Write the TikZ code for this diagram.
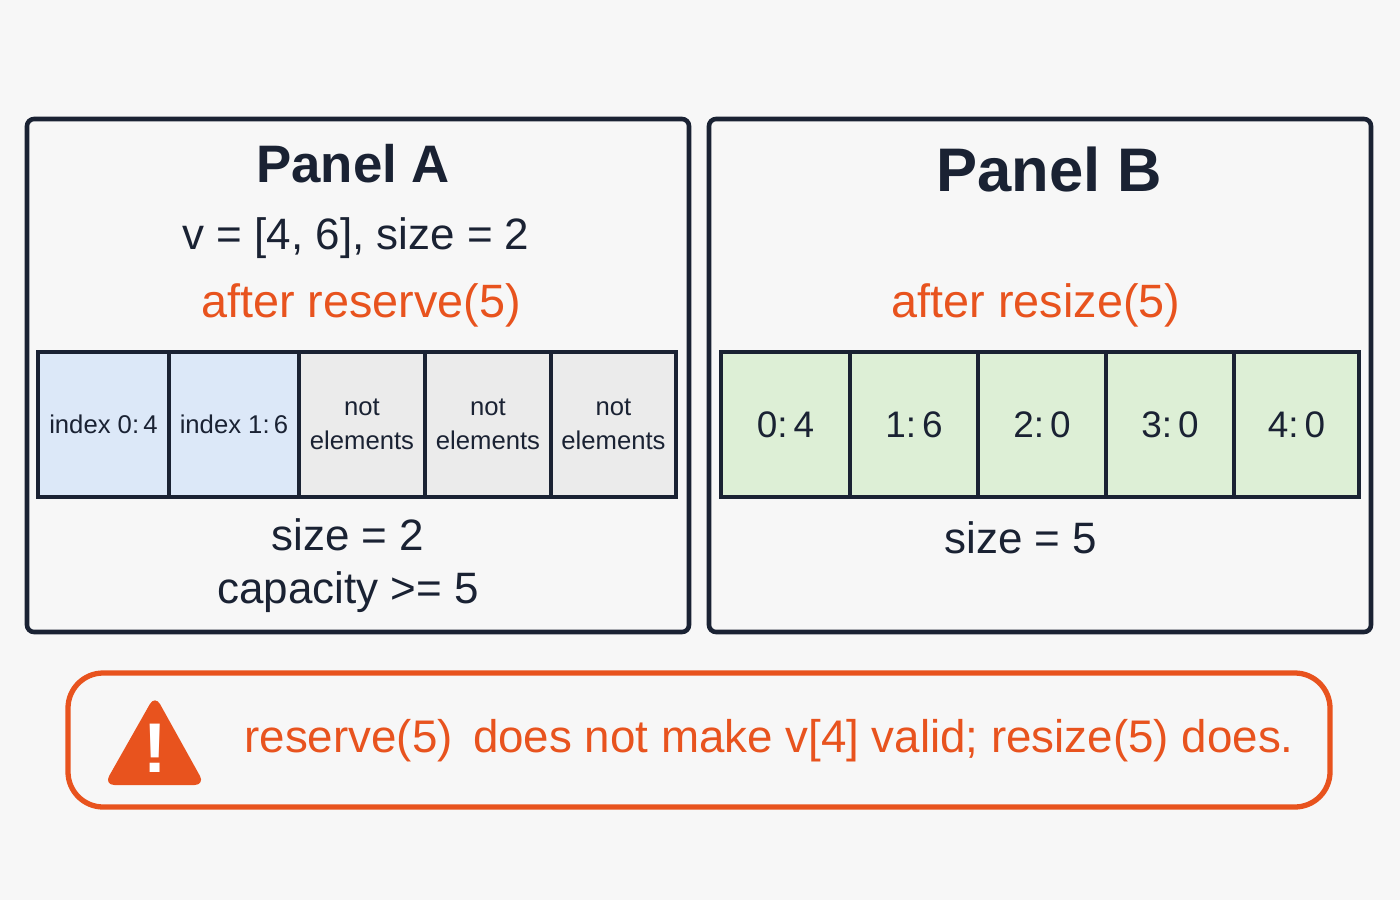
\documentclass[tikz,border=0pt]{standalone}
\usepackage{fontspec}
\setmainfont{Liberation Sans}
\usetikzlibrary{positioning}
\definecolor{ink}{HTML}{1A2233}
\definecolor{warn}{HTML}{E8531E}
\definecolor{blueF}{HTML}{DCE8F8}
\definecolor{grayF}{HTML}{EBEBEB}
\definecolor{greenF}{HTML}{DDEFD6}
\tikzstyle{panel}=[draw=ink, line width=1.3pt, rounded corners=2pt]
\tikzstyle{cell}=[draw=ink, line width=1.2pt, minimum height=1.45cm, inner sep=0pt, align=center, text=ink]
\tikzstyle{acell}=[cell, minimum width=1.27cm, font=\fontsize{7.3}{9.5}\selectfont]
\tikzstyle{bcell}=[cell, fill=greenF, minimum width=1.276cm, font=\fontsize{10.5}{12}\selectfont]

\begin{document}
\begin{tikzpicture}[x=0.01cm, y=-0.01cm]
        \fill[white!97!black] (0,0) rectangle (1400,900);
        \useasboundingbox (0,0) rectangle (1400,900);
        % panels
        \draw[panel] (27,119) rectangle (689,632);
        \draw[panel] (709,119) rectangle (1371,632);
        \node[text=ink, font=\fontsize{15}{18}\selectfont\bfseries] (titleA) at (353,164) {Panel A};
        \node[text=ink, font=\fontsize{12.5}{15}\selectfont] (vecA) at (356,238) {v = [4, 6], size = 2};
        \node[text=warn, font=\fontsize{13.3}{16}\selectfont] (opA) at (361,305) {after reserve(5)};
        \node[text=ink, font=\fontsize{17.5}{20}\selectfont\bfseries] (titleB) at (1049,170) {Panel B};
        \node[text=warn, font=\fontsize{13.3}{16}\selectfont] (opB) at (1036,305) {after resize(5)};
        % cells A
        \node[acell, fill=blueF, minimum width=1.31cm] (a0) at (103.5,424.5) {index 0:\,4};
        \node[acell, fill=blueF, minimum width=1.30cm] (a1) at (234,424.5) {index 1:\,6};
        \node[acell, fill=grayF, minimum width=1.26cm] (a2) at (362,424.5) {not\\elements};
        \node[acell, fill=grayF, minimum width=1.26cm] (a3) at (488,424.5) {not\\elements};
        \node[acell, fill=grayF, minimum width=1.25cm] (a4) at (613.5,424.5) {not\\elements};
        % cells B
        \node[bcell, minimum width=1.29cm] (b0) at (785.5,424.5) {0:\,4};
        \node[bcell, minimum width=1.28cm] (b1) at (914,424.5) {1:\,6};
        \node[bcell, minimum width=1.28cm] (b2) at (1042,424.5) {2:\,0};
        \node[bcell, minimum width=1.28cm] (b3) at (1170,424.5) {3:\,0};
        \node[bcell, minimum width=1.25cm] (b4) at (1296.5,424.5) {4:\,0};
        \node[text=ink, font=\fontsize{12.5}{15}\selectfont, align=center] (sizeA) at (348,566) {size = 2\\capacity >= 5};
        \node[text=ink, font=\fontsize{12.5}{15}\selectfont] (sizeB) at (1021,538) {size = 5};
        % warning
        \draw[draw=warn, line width=1.5pt, rounded corners=10pt] (68,673) rectangle (1330,807);
        \fill[warn, rounded corners=3pt] (155,695) -- (205,785) -- (104,785) -- cycle;
        \node[text=white, font=\fontsize{20}{20}\selectfont\bfseries] (bang) at (155,748) {!};
        \node[text=warn, font=\fontsize{13}{16}\selectfont, anchor=west] (msg) at (232,741) {reserve(5)\, does not make v[4] valid; resize(5) does.};
    \end{tikzpicture}
\end{document}
